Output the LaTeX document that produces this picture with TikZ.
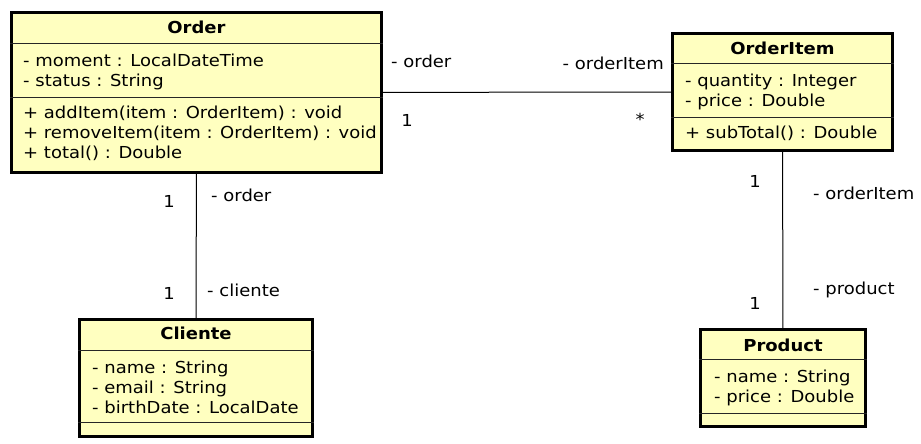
\documentclass[tikz,border=0pt]{standalone}
\usepackage{fontspec}
\setmainfont{DejaVu Sans}[FakeStretch=1.09]
\usetikzlibrary{positioning, calc}
\definecolor{classfill}{RGB}{255,255,192}
\tikzset{
    class_box/.style={
        rectangle, draw=black, line width=3pt, fill=classfill, inner sep=0pt
    },
    class_title/.style={
        font=\fontsize{16.5}{20}\selectfont\bfseries, inner sep=0pt
    },
    class_text/.style={
        font=\fontsize{16.5}{20}\selectfont, align=left, anchor=west, inner sep=0pt
    },
    sep_line/.style={draw=black!85, line width=0.9pt},
    assoc_line/.style={draw=black, line width=1pt},
    lbl/.style={font=\fontsize{16.5}{20}\selectfont, inner sep=0pt}
}

\begin{document}
\begin{tikzpicture}[x=1pt, y=-1pt]
\useasboundingbox (0,0) rectangle (921,444);

% class boxes
\node[class_box, minimum width=370pt, minimum height=160pt] (order) at (196.5, 92.5) {};
\node[class_box, minimum width=220pt, minimum height=117pt] (orderitem) at (782.5, 92) {};
\node[class_box, minimum width=233pt, minimum height=117pt] (cliente) at (196, 378) {};
\node[class_box, minimum width=165pt, minimum height=97pt] (product) at (783, 378) {};

% compartments
\draw[sep_line] (order.west |- 0,43) -- (order.east |- 0,43);
\draw[sep_line] (order.west |- 0,97) -- (order.east |- 0,97);
\draw[sep_line] (orderitem.west |- 0,63) -- (orderitem.east |- 0,63);
\draw[sep_line] (orderitem.west |- 0,117) -- (orderitem.east |- 0,117);
\draw[sep_line] (cliente.west |- 0,350) -- (cliente.east |- 0,350);
\draw[sep_line] (cliente.west |- 0,422) -- (cliente.east |- 0,422);
\draw[sep_line] (product.west |- 0,359) -- (product.east |- 0,359);
\draw[sep_line] (product.west |- 0,413) -- (product.east |- 0,413);

% Order
\node[class_title] (order_name) at (196.5, 27) {Order};
\node[class_text] (order_attr) at (23, 71.5) {- moment : LocalDateTime\\- status : String};
\node[class_text] (order_ops) at (23, 133) {+ addItem(item : OrderItem) : void\\+ removeItem(item : OrderItem) : void\\+ total() : Double};

% OrderItem
\node[class_title] (orderitem_name) at (782.5, 48) {OrderItem};
\node[class_text] (orderitem_attr) at (685, 91.5) {- quantity : Integer\\- price : Double};
\node[class_text] (orderitem_ops) at (685, 133) {+ subTotal() : Double};

% Cliente
\node[class_title] (cliente_name) at (196, 333) {Cliente};
\node[class_text] (cliente_attr) at (92, 387) {- name : String\\- email : String\\- birthDate : LocalDate};

% Product
\node[class_title] (product_name) at (783, 345) {Product};
\node[class_text] (product_attr) at (714, 388) {- name : String\\- price : Double};

% associations
\draw[assoc_line] (order) -- (orderitem);
\draw[assoc_line] (order) -- (cliente);
\draw[assoc_line] (orderitem) -- (product);

% roles and multiplicities
\node[lbl, anchor=west] (r_order1) at (391, 61) {- order};
\node[lbl] (m_order1) at (407, 120) {1};
\node[lbl, anchor=east] (r_item1) at (664, 63) {- orderItem};
\node[lbl] (m_item1) at (640, 119) {*};

\node[lbl] (m_order2) at (169, 201) {1};
\node[lbl, anchor=west] (r_order2) at (211, 195) {- order};
\node[lbl] (m_cliente) at (169, 293) {1};
\node[lbl, anchor=west] (r_cliente) at (207, 290) {- cliente};

\node[lbl] (m_item2) at (755, 181) {1};
\node[lbl, anchor=west] (r_item2) at (813, 193) {- orderItem};
\node[lbl] (m_product) at (755, 303) {1};
\node[lbl, anchor=west] (r_product) at (813, 290) {- product};
\end{tikzpicture}
\end{document}
